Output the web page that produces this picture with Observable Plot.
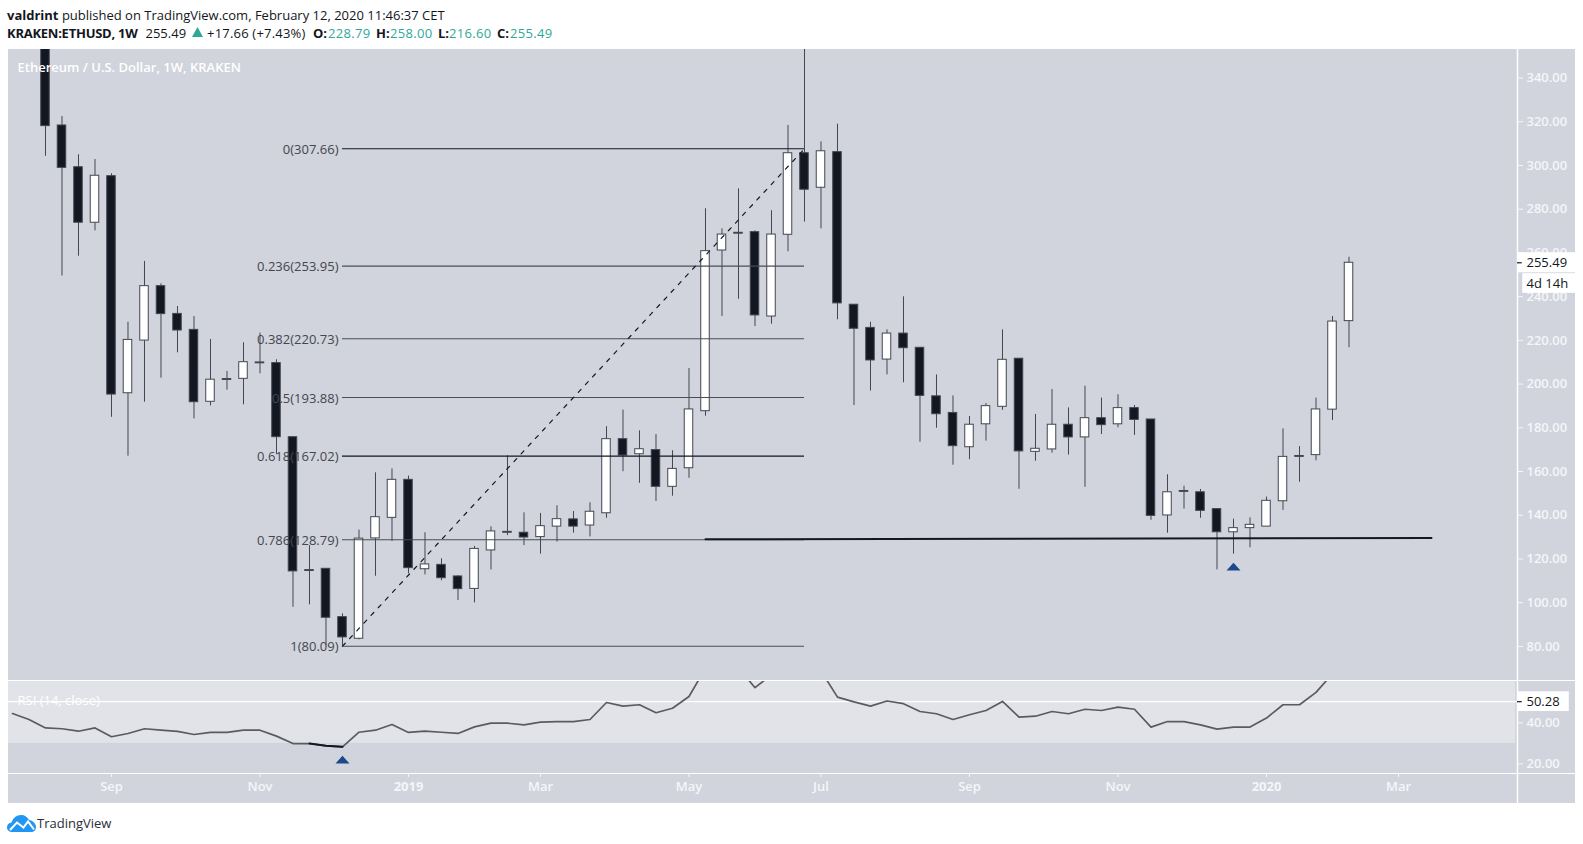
<!DOCTYPE html>
<html>
<head>
<meta charset="utf-8">
<script src="https://cdn.jsdelivr.net/npm/d3@7"></script>
<script src="https://cdn.jsdelivr.net/npm/@observablehq/plot@0.6"></script>
<style>
  html, body { margin: 0; padding: 0; background: #fff; }
  body { width: 1583px; height: 844px; position: relative; overflow: hidden; font-family: "Open Sans", sans-serif; }
  .line { position: absolute; left: 7px; font-size: 13px; color: #131722; white-space: nowrap; line-height: 18px; }
  .line b { font-weight: 700; }
  .t { position: absolute; top: 24px; font-size: 13px; line-height: 18px; color: #131722; white-space: nowrap; }
  .up { color: #2fa898; letter-spacing: 0.3px; }
  #price, #rsi { position: absolute; left: 8px; }
  #price { top: 49px; }
  #rsi { top: 680px; }
  #price svg, #rsi svg { display: block; }
  #logo { position: absolute; left: 7px; top: 815px; }
  #brand { position: absolute; left: 37px; top: 813px; font-size: 13px; color: #2a2e39; line-height: 20px; }
</style>
</head>
<body>
<div class="line" style="top:6px"><b>valdrint</b> published on TradingView.com, February 12, 2020 11:46:37 CET</div>
<div class="t" style="left:7px;letter-spacing:-0.25px"><b>KRAKEN:ETHUSD, 1W</b></div>
<div class="t" style="left:145.5px">255.49</div>
<svg style="position:absolute;left:192px;top:27px" width="11" height="10"><polygon points="5.5,0 11,10 0,10" fill="#2fa898"/></svg>
<div class="t" style="left:207px;letter-spacing:0.2px">+17.66 (+7.43%)</div>
<div class="t" style="left:313px"><b>O:</b></div><div class="t up" style="left:328px">228.79</div>
<div class="t" style="left:376px"><b>H:</b></div><div class="t up" style="left:390px">258.00</div>
<div class="t" style="left:438px"><b>L:</b></div><div class="t up" style="left:449px">216.60</div>
<div class="t" style="left:497px"><b>C:</b></div><div class="t up" style="left:510px">255.49</div>
<div id="price"></div>
<div id="rsi"></div>
<svg id="logo" width="29" height="17" viewBox="0 0 29 17">
  <path d="M5 17C1.5 17 0 14.5 0 12.5C0 9.5 2 8 4.5 7.5C6 3 9.5 0 14 0C18 0 20.5 2 22 5C26 5.5 29 8.5 29 12C29 15 27 17 24 17Z" fill="#2196f3"/>
  <polyline points="3,15 10,7.5 16.5,12.5 21,6.5 27,14.5" fill="none" stroke="#fff" stroke-width="2"/>
</svg>
<div id="brand">TradingView</div>
<script>
// Weekly candles, first one is the week of 6 Aug 2018
const opens = [372,318.3,299.2,273.8,295.1,195.8,219.9,244.8,232.1,224.8,191.9,202.3,202.4,209.9,209.6,175.7,114.9,115.5,93.4,83.5,129.4,138.8,156.2,115.3,117.3,112,106.3,123.9,132.4,132,130,134.8,138.1,135.3,140.9,174.8,167.9,169.8,153,161.5,187.6,261.1,269.2,269.5,230.9,268.3,305.6,289.8,306.1,236.3,225.7,211.2,223.1,216.6,194.4,186.8,171.1,181.6,189.6,211.6,169,170.1,181.4,175.6,184.4,181.6,189,183.8,139.9,151.1,150.5,142.8,132.2,134.1,134.8,146.4,167.1,167.5,188.3,228.79];
const highs = [382,322.4,304.9,302.7,296.2,228.3,256.1,245.9,235.5,230.9,220.4,205.8,218.9,223.3,211.1,175.7,126.1,115.5,94.9,133.2,159.4,161.2,157.9,132,120.1,112.4,125.7,134.7,167.2,141.1,140.8,144.3,141.7,145.7,180.5,188.1,178.6,176.9,169.5,207.1,280.2,271,289.3,270.1,279.3,318.3,362,310.8,318.9,236.3,228.3,224.8,239.9,216.6,204.2,194.6,185.2,191.1,224.8,211.6,186.1,197.5,189.1,199,193.6,195.1,190.2,183.8,158.5,153.3,151.8,142.8,138.2,138.8,148.3,179.5,171.4,193.6,230.9,258];
const lows = [304.2,249.4,258.5,270.1,184.8,167,191.7,202.7,214.3,184.1,190,197.2,190.5,204.7,167.8,97.9,99,80.4,80.1,83,112.1,128,113.2,112.7,110,101,99.9,115,130.7,126.1,122.2,127.7,131.8,130.1,138.6,159.9,154.6,146.3,148.7,156.9,185.3,230.9,238.8,226.3,227.4,260.5,274.1,271,229.4,190.2,196.8,204.2,200.6,173.4,179.8,162.9,165.4,173.9,188,151.9,164.7,168.4,167.5,152.8,176.9,180,176.5,137.7,131.8,142.8,138.6,115,122.2,125.1,134.8,142.2,155.1,164.9,183.3,216.6];
const closes = [318,298.9,273.8,295.3,195.2,220.2,244.8,232,224.5,191.7,202,201.9,210,209.5,175.7,114.3,114.5,93.1,84.1,129.3,139.1,156.2,115.8,117.5,111.2,106.2,124.6,132.6,132,129.8,135,138.2,134.8,141.6,174.8,167.3,170.2,153,161.2,188.4,260.8,268.4,268.8,231.4,268.4,305.6,288.9,306.5,236.9,225.3,210.8,223.1,216.4,194.6,186.2,171.6,181.4,189.9,211.1,169.2,170.4,181.4,175.6,184.4,181.2,189,183.6,139.7,150.5,150.7,142,132.2,134.1,135.6,146.6,166.7,166.7,188.4,228.6,255.49];
// RSI(14), starts two weeks before the first candle
const rsi = [44.5,41.6,37.5,37.1,35.9,37.5,33.2,34.8,37.1,36.4,35.8,34.3,35.3,35.3,36.4,36.4,33.5,29.9,29.9,28.8,28.3,35.4,36.4,39.2,35.3,35.9,35.4,34.8,38,39.8,39.8,39,40.3,40.6,40.6,41.6,49.9,48.1,48.8,44.9,47.1,52.8,66.6,68,66.8,57.1,63.4,70,66,65.3,52.5,50.2,48.1,50.6,49.3,45.5,44.4,41.6,43.9,46,50.4,42.8,43.2,45.5,44.4,46.6,46,47.6,46.6,37.9,40.6,40.6,39,36.9,37.9,37.9,42.3,48.8,48.8,54.8,63.9,70];
const fibRatios = ["0","0.236","0.382","0.5","0.618","0.786","1"];
const fibLevels = [307.66,253.95,220.73,193.88,167.02,128.79,80.09];
const fibDark = [true,false,false,false,true,false,false];
const priceTicks = [80,100,120,140,160,180,200,220,240,260,280,300,320,340];
const rsiTicks = [20,40];
const monthNames = ["Sep","Nov","Mar","May","Jul","Sep","Nov","Mar"];
const monthDates = ["2018-09-03","2018-11-05","2019-03-04","2019-05-06","2019-07-01","2019-09-02","2019-11-04","2020-03-02"];
const yearNames = ["2019","2020"];
const yearDates = ["2019-01-07","2020-01-06"];

const start = Date.UTC(2018, 7, 6), WEEK = 7 * 864e5;
const wk = i => new Date(start + i * WEEK);
const DATE_L = wk(-2.242), DATE_R = wk(89.212), DATE_EDGE = wk(92.73);
const HALF = 0.258; // half a candle body, in weeks
const candles = opens.map((o, i) => ({i, date: wk(i), o, h: highs[i], l: lows[i], c: closes[i], up: closes[i] >= o}));
const fibs = fibLevels.map((v, i) => ({v, label: `${fibRatios[i]}(${v.toFixed(2)})`, dark: fibDark[i]}));
const rsiData = rsi.map((v, i) => ({date: wk(i - 2), v}));
const GREY = "#d1d4dc", INK = "#131722", EDGE = "#434651", AXIS = "#f4f6fb", FONT = '"Open Sans", sans-serif';
const flatTriangle = {draw(c, size) {
  const r = Math.sqrt(size / Math.PI);
  c.moveTo(0, -r * 0.55); c.lineTo(r, r * 0.55); c.lineTo(-r, r * 0.55); c.closePath();
}};

const WIDTH = 1567;
const price = Plot.plot({
  width: WIDTH, height: 631, marginLeft: 0, marginRight: 58, marginTop: 0, marginBottom: 0,
  style: {background: GREY, fontFamily: FONT, fontSize: "13px", overflow: "visible"},
  x: {type: "utc", domain: [DATE_L, DATE_R], axis: null},
  y: {domain: [64.4, 353.05], axis: null},
  marks: [
    Plot.ruleX(candles, {x: "date", y1: "l", y2: "h", stroke: EDGE, strokeWidth: 1, clip: true}),
    Plot.rect(candles, {
      x1: d => wk(d.i - HALF), x2: d => wk(d.i + HALF), y1: "o", y2: "c",
      fill: d => d.up ? "#ffffff" : INK, stroke: EDGE, strokeWidth: 1, clip: true
    }),
    Plot.ruleY(fibs, {y: "v", x1: wk(18), x2: wk(46), stroke: d => d.dark ? INK : "#4a4d57", strokeWidth: 1.1}),
    Plot.line([{d: wk(18), v: 80.09}, {d: wk(46), v: 307.66}], {x: "d", y: "v", stroke: INK, strokeWidth: 1.2, strokeDasharray: "4,6.5"}),
    Plot.line([{d: wk(40), v: 129.0}, {d: wk(84), v: 129.6}], {x: "d", y: "v", stroke: INK, strokeWidth: 2}),
    Plot.dot([{d: wk(72), v: 116.5}], {x: "d", y: "v", r: 7, symbol: flatTriangle, fill: "#1b4a8c", stroke: "none"}),
    Plot.text(fibs, {x: wk(18), y: "v", text: "label", textAnchor: "end", dx: -4, dy: 1, fill: EDGE, fontSize: 13}),
    Plot.text(["Ethereum / U.S. Dollar, 1W, KRAKEN"], {frameAnchor: "top-left", dx: 9, dy: 13, fill: "#ffffff", fontSize: 13, fontWeight: 600}),
    Plot.axisY({anchor: "right", ticks: priceTicks, tickFormat: d3.format(".2f"), tickSize: 5, tickPadding: 4, color: AXIS, fontSize: 13, fontWeight: 600, label: null}),
    Plot.ruleX([DATE_R], {stroke: "#ffffff", strokeWidth: 1.5}),
    Plot.rect([255.49], {x1: DATE_R, x2: DATE_EDGE, y1: d => d - 4.6, y2: d => d + 4.6, fill: "#ffffff"}),
    Plot.ruleY([255.49], {x1: DATE_R, x2: wk(89.5), stroke: INK, strokeWidth: 1.2}),
    Plot.text(["255.49"], {x: DATE_R, y: 255.49, text: d => d, textAnchor: "start", dx: 9, fill: INK, fontSize: 13}),
    Plot.rect([246], {x1: wk(89.53), x2: DATE_EDGE, y1: d => d - 4.5, y2: d => d + 4.5, fill: "#ffffff"}),
    Plot.text(["4d 14h"], {x: DATE_R, y: 246, text: d => d, textAnchor: "start", dx: 9, fill: INK, fontSize: 13})
  ]
});
document.getElementById("price").append(price);

const RSI_TOP = 60.6, RSI_BOTTOM = 15.3, RSI_PAGE_END = 0.63;
const monthTicks = monthDates.map(d => new Date(d));
const yearTicks = yearDates.map(d => new Date(d));
const rsiChart = Plot.plot({
  width: WIDTH, height: 123, marginLeft: 0, marginRight: 58, marginTop: 0, marginBottom: 30,
  style: {background: GREY, fontFamily: FONT, fontSize: "13px", overflow: "visible"},
  x: {type: "utc", domain: [DATE_L, DATE_R], axis: null},
  y: {domain: [RSI_BOTTOM, RSI_TOP], axis: null},
  marks: [
    Plot.rect([{a: 30, b: 70}], {x1: DATE_L, x2: wk(89.1), y1: "a", y2: "b", fill: "#e1e3e9", clip: true}),
    Plot.ruleY([50.28], {x1: DATE_L, x2: DATE_R, stroke: "#ffffff", strokeWidth: 1.2}),
    Plot.text(["RSI (14, close)"], {frameAnchor: "top-left", dx: 9, dy: 15, fill: "#ffffff", fontSize: 13}),
    Plot.line(rsiData, {x: "date", y: "v", stroke: "#5b5b5f", strokeWidth: 1.7, clip: true}),
    Plot.line(rsiData.slice(18, 21), {x: "date", y: "v", stroke: INK, strokeWidth: 2, clip: true}),
    Plot.dot([{d: wk(18), v: 22.1}], {x: "d", y: "v", r: 7, symbol: flatTriangle, fill: "#1b4a8c", stroke: "none"}),
    Plot.axisY({anchor: "right", ticks: rsiTicks, tickFormat: d3.format(".2f"), tickSize: 5, tickPadding: 4, color: AXIS, fontSize: 13, fontWeight: 600, label: null}),
    Plot.axisX({anchor: "bottom", ticks: monthTicks, tickFormat: (d, i) => monthNames[i], tickSize: 4, tickPadding: 4, color: AXIS, fontSize: 13, fontWeight: 600, label: null}),
    Plot.axisX({anchor: "bottom", ticks: yearTicks, tickFormat: (d, i) => yearNames[i], tickSize: 4, tickPadding: 4, color: AXIS, fontSize: 13, fontWeight: 700, label: null}),
    Plot.ruleY([RSI_TOP, RSI_BOTTOM], {x1: DATE_L, x2: DATE_EDGE, stroke: "#ffffff", strokeWidth: 1.2}),
    Plot.ruleX([DATE_R], {y1: RSI_PAGE_END, y2: RSI_TOP, stroke: "#ffffff", strokeWidth: 1.5}),
    Plot.rect([50.28], {x1: DATE_R, x2: wk(92.35), y1: d => d - 4.8, y2: d => d + 4.8, fill: "#ffffff"}),
    Plot.ruleY([50.28], {x1: DATE_R, x2: wk(89.5), stroke: INK, strokeWidth: 1.2}),
    Plot.text(["50.28"], {x: DATE_R, y: 50.28, text: d => d, textAnchor: "start", dx: 9, fill: INK, fontSize: 13})
  ]
});
document.getElementById("rsi").append(rsiChart);
</script>
</body>
</html>
